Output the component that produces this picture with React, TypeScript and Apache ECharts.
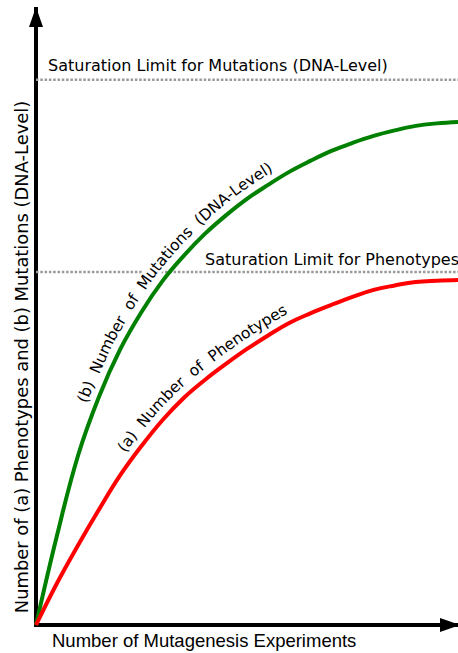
import React, { useEffect, useRef } from "react";
import * as echarts from "echarts";

// Horizontal positions (experiments, % of axis)
const experimentSteps = [0, 5, 10, 15, 20, 25, 30, 35, 40, 45, 50, 55, 60, 65, 70, 75, 80, 85, 90, 95, 100];
// Curve (b): number of mutations (DNA level)
const mutationValues = [0, 16.51, 31.19, 42.02, 50.64, 57.43, 63.12, 67.71, 71.74, 75.14, 78.17, 80.73, 83.12, 85.14, 86.97, 88.44, 89.72, 90.73, 91.56, 92.02, 92.29];
// Curve (a): number of phenotypes
const phenotypeValues = [0, 7.71, 14.68, 21.28, 27.52, 32.84, 37.61, 41.65, 44.95, 47.89, 50.64, 53.12, 55.41, 57.16, 58.72, 60.18, 61.47, 62.29, 62.94, 63.17, 63.3];
// Saturation limits
const saturationLevels = [100, 64.77];
const saturationLabels = ["Saturation Limit for Mutations (DNA-Level)", "Saturation Limit for Phenotypes"];
const curveLabels = ["(b) Number of Mutations (DNA-Level)", "(a) Number of Phenotypes"];
const xTitle = "Number of Mutagenesis Experiments";
const yTitle = "Number of (a) Phenotypes and (b) Mutations (DNA-Level)";

const W = 458;
const H = 653;
const VFONT = '"DejaVu Sans", Verdana, sans-serif';

function zip(xs: number[], ys: number[]) {
  return xs.map((x, i) => [x, ys[i]]);
}

export default function App() {
  const ref = useRef<HTMLDivElement>(null);
  useEffect(() => {
    document.body.style.margin = "0";
    const chart = echarts.init(ref.current!, null, { renderer: "svg", width: W, height: H });
    const axisCommon = {
      type: "value" as const,
      axisLine: {
        show: true,
        symbol: ["none", "triangle"],
        symbolSize: [14, 20],
        symbolOffset: [0, -8],
        lineStyle: { color: "#000", width: 4, cap: "square" },
      },
      axisTick: { show: false },
      axisLabel: { show: false },
      splitLine: { show: false },
    };
    chart.setOption({
      animation: false,
      grid: { left: 36, right: 0, top: 9, bottom: 28 },
      xAxis: { ...axisCommon, min: 0, max: 100 },
      yAxis: { ...axisCommon, min: 0, max: 113 },
      series: [
        ...saturationLevels.map((lv, i) => ({
          type: "line",
          name: saturationLabels[i],
          data: [[0, lv], [100, lv]],
          symbol: "none",
          silent: true,
          z: 1,
          lineStyle: { color: "#9a9a9a", width: 2.5, type: [2.5, 1.8] },
        })),
        {
          type: "line",
          name: curveLabels[0],
          data: zip(experimentSteps, mutationValues),
          smooth: 0.4,
          symbol: "none",
          z: 3,
          lineStyle: { color: "#008000", width: 4 },
        },
        {
          type: "line",
          name: curveLabels[1],
          data: zip(experimentSteps, phenotypeValues),
          smooth: 0.4,
          symbol: "none",
          z: 3,
          lineStyle: { color: "#ff0000", width: 4 },
        },
      ],
    });

    // --- labels placed along the curves ---
    const canvas = document.createElement("canvas");
    const ctx = canvas.getContext("2d")!;

    function along(xs: number[], ys: number[], text: string, startS: number, offset: number, size: number, spaceK: number) {
      const font = `${size}px ${VFONT}`;
      ctx.font = font;
      const base = xs.map((x, i) => chart.convertToPixel({ gridIndex: 0 }, [x, ys[i]]) as number[]);
      const cum = [0];
      for (let i = 1; i < base.length; i++) {
        cum.push(cum[i - 1] + Math.hypot(base[i][0] - base[i - 1][0], base[i][1] - base[i - 1][1]));
      }
      const total = cum[cum.length - 1];
      const at = (s: number, pts: number[][], c: number[]) => {
        const tot = c[c.length - 1];
        const ss = Math.max(0, Math.min(tot, s));
        let k = 1;
        while (k < c.length - 1 && c[k] < ss) k++;
        const t = (ss - c[k - 1]) / (c[k] - c[k - 1] || 1);
        return [pts[k - 1][0] + (pts[k][0] - pts[k - 1][0]) * t, pts[k - 1][1] + (pts[k][1] - pts[k - 1][1]) * t];
      };
      const off: number[][] = [];
      for (let s = 0; s <= total; s += 2) {
        const p = at(s, base, cum);
        const a = at(s - 25, base, cum);
        const b = at(s + 25, base, cum);
        let tx = b[0] - a[0];
        let ty = b[1] - a[1];
        const l = Math.hypot(tx, ty) || 1;
        tx /= l;
        ty /= l;
        off.push([p[0] + ty * offset, p[1] - tx * offset]);
      }
      const oc = [0];
      for (let i = 1; i < off.length; i++) {
        oc.push(oc[i - 1] + Math.hypot(off[i][0] - off[i - 1][0], off[i][1] - off[i - 1][1]));
      }
      const bgs: any[] = [];
      const fgs: any[] = [];
      let s = startS;
      for (const ch of text) {
        const w = ctx.measureText(ch).width * (ch === " " ? spaceK : 1);
        const mid = s + w / 2;
        const p = at(mid, off, oc);
        const a = at(mid - 10, off, oc);
        const b = at(mid + 10, off, oc);
        const ang = Math.atan2(-(b[1] - a[1]), b[0] - a[0]);
        if (ch !== " ") {
          const common = { type: "text", x: p[0], y: p[1], rotation: ang, z: 2, silent: true };
          bgs.push({
            ...common,
            style: { text: ch, font, fill: "#fff", align: "center", verticalAlign: "middle", backgroundColor: "#fff" },
          });
          fgs.push({
            ...common,
            style: { text: ch, font, fill: "#000", align: "center", verticalAlign: "middle" },
          });
        }
        s += w;
      }
      return [...bgs, ...fgs];
    }

    const graphics: any[] = [
      ...along(experimentSteps, mutationValues, curveLabels[0], 228, 14, 15.5, 2),
      ...along(experimentSteps, phenotypeValues, curveLabels[1], 195, 14, 15.5, 2),
      {
        type: "text",
        x: 48,
        y: 65,
        z: 2,
        style: { text: saturationLabels[0], font: `16px ${VFONT}`, fill: "#000", align: "left", verticalAlign: "middle" },
      },
      {
        type: "text",
        x: 205,
        y: 259,
        z: 2,
        style: { text: saturationLabels[1], font: `16px ${VFONT}`, fill: "#000", align: "left", verticalAlign: "middle" },
      },
      {
        type: "text",
        x: 52,
        y: 640,
        z: 2,
        style: { text: xTitle, font: '18.5px "Liberation Sans", Arial, sans-serif', fill: "#000", align: "left", verticalAlign: "middle" },
      },
      {
        type: "text",
        x: 21,
        y: 357,
        rotation: Math.PI / 2,
        z: 2,
        style: { text: yTitle, font: `17.9px ${VFONT}`, fill: "#000", align: "center", verticalAlign: "middle" },
      },
    ];
    chart.setOption({ graphic: { elements: graphics } });
    return () => chart.dispose();
  }, []);
  return <div ref={ref} style={{ width: W, height: H }} />;
}
